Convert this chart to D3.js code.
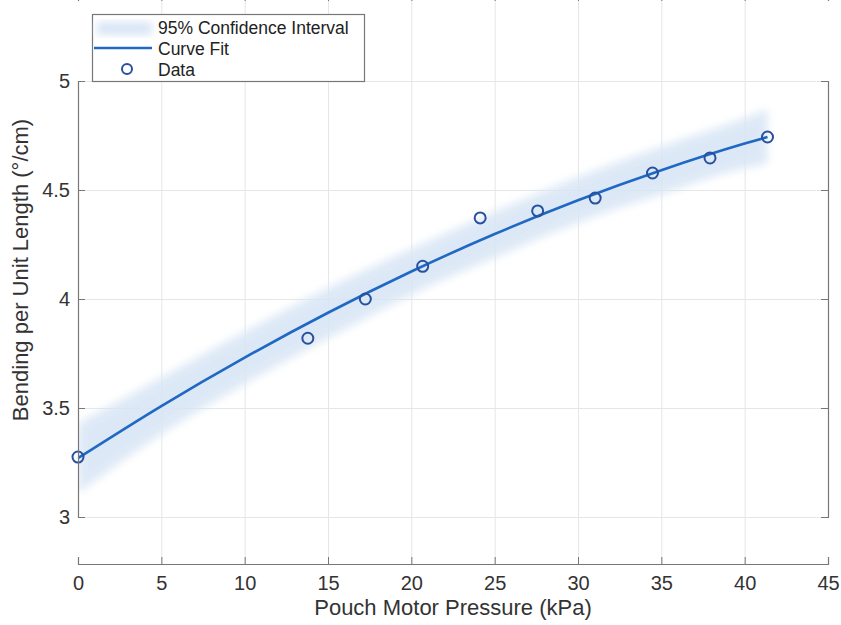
<!DOCTYPE html>
<html>
<head>
<meta charset="utf-8">
<script src="https://cdn.jsdelivr.net/npm/d3@7"></script>
<style>
  html, body { margin: 0; padding: 0; background: #fff; }
  #field { width: 841px; height: 625px; }
  text { font-family: 'Liberation Sans', Arial, Helvetica, sans-serif; }
</style>
</head>
<body>
<div id="field"></div>
<script>
'use strict';

// 測定データ (kPa, °/cm)
const pressure = [0, 13.79, 17.24, 20.68, 24.13, 27.58, 31.03, 34.47, 37.92, 41.37];
const bending = [3.275, 3.82, 4.0, 4.15, 4.372, 4.404, 4.463, 4.578, 4.647, 4.743];

// 近似曲線と95%信頼区間
const fitX = [0, 5, 10, 15, 20, 25, 30, 35, 40, 41.37];
const fitY = [3.27, 3.509, 3.731, 3.937, 4.126, 4.298, 4.453, 4.591, 4.713, 4.743];
const ciUpper = [3.43, 3.64, 3.85, 4.05, 4.23, 4.40, 4.56, 4.70, 4.83, 4.87];
const ciLower = [3.11, 3.38, 3.61, 3.82, 4.02, 4.19, 4.35, 4.48, 4.60, 4.62];

// 目盛り
const xTicks = [0, 5, 10, 15, 20, 25, 30, 35, 40, 45];
const yTicks = [3, 3.5, 4, 4.5, 5];

const legendLabels = ['95% Confidence Interval', 'Curve Fit', 'Data'];

function D3Chart(setting) {
  let w = setting.w,
      h = setting.h,
      left = 78, right = 828, top = -6, bottom = 564,
      svg = d3.select('#field').append('svg').attr('width', w).attr('height', h);

  let xScale = d3.scaleLinear().domain([0, 45]).range([left, right]),
      yScale = d3.scaleLinear().domain([3, 5]).range([517, 81]);

  let axisColor = '#777',
      textColor = '#333',
      lineColor = '#1f68c4',
      markColor = '#27509f',
      bandColor = '#d8e5f5';

  let defs = svg.append('defs');
  defs.append('filter').attr('id', 'soft')
    .attr('x', '-10%').attr('y', '-20%').attr('width', '120%').attr('height', '140%')
    .append('feGaussianBlur').attr('stdDeviation', 4);
  defs.append('clipPath').attr('id', 'plotclip')
    .append('rect').attr('x', left).attr('y', top).attr('width', right - left).attr('height', bottom - top);

  // グリッド
  svg.append('g')
    .attr('transform', 'translate(0,' + bottom + ')')
    .call(d3.axisBottom(xScale).tickValues(xTicks.slice(1, -1)).tickSize(-(bottom - top)).tickFormat(''))
    .call(g => g.select('.domain').remove())
    .call(g => g.selectAll('line').attr('stroke', '#e6e6e6').attr('stroke-width', 1));
  svg.append('g')
    .attr('transform', 'translate(' + left + ',0)')
    .call(d3.axisLeft(yScale).tickValues(yTicks).tickSize(-(right - left)).tickFormat(''))
    .call(g => g.select('.domain').remove())
    .call(g => g.selectAll('line').attr('stroke', '#e6e6e6').attr('stroke-width', 1));

  let plot = svg.append('g').attr('clip-path', 'url(#plotclip)');

  // 信頼区間
  let band = d3.area()
    .x(function(d, i) { return xScale(fitX[i]); })
    .y0(function(d, i) { return yScale(ciLower[i]); })
    .y1(function(d, i) { return yScale(ciUpper[i]); })
    .curve(d3.curveMonotoneX);
  plot.append('path')
    .datum(fitX)
    .attr('d', band)
    .attr('fill', bandColor)
    .attr('opacity', 0.85)
    .attr('filter', 'url(#soft)');

  // 近似曲線
  let line = d3.line()
    .x(function(d, i) { return xScale(fitX[i]); })
    .y(function(d) { return yScale(d); })
    .curve(d3.curveMonotoneX);
  plot.append('path')
    .datum(fitY)
    .attr('d', line)
    .attr('fill', 'none')
    .attr('stroke', lineColor)
    .attr('stroke-width', 2.6);

  // データ点
  svg.selectAll('circle.pt')
    .data(bending)
    .enter().append('circle')
    .attr('class', 'pt')
    .attr('cx', function(d, i) { return xScale(pressure[i]); })
    .attr('cy', function(d) { return yScale(d); })
    .attr('r', 5.5)
    .attr('fill', 'none')
    .attr('stroke', markColor)
    .attr('stroke-width', 2);

  // 軸 (目盛りは内向き)
  let xAxis = svg.append('g')
    .attr('transform', 'translate(0,' + bottom + ')')
    .call(d3.axisBottom(xScale).tickValues(xTicks).tickSize(-7).tickPadding(12));
  let yAxis = svg.append('g')
    .attr('transform', 'translate(' + left + ',0)')
    .call(d3.axisLeft(yScale).tickValues(yTicks).tickSize(-7).tickPadding(8).tickFormat(d3.format('')));
  svg.append('g')
    .attr('transform', 'translate(' + right + ',0)')
    .call(d3.axisRight(yScale).tickValues(yTicks).tickSize(-7).tickFormat(''));
  svg.append('g')
    .attr('transform', 'translate(0,' + top + ')')
    .call(d3.axisTop(xScale).tickValues(xTicks).tickSize(-7).tickFormat(''));

  svg.selectAll('.domain').attr('stroke', axisColor).attr('stroke-width', 1.2);
  svg.selectAll('.tick line').filter(function() { return d3.select(this).attr('stroke') !== '#e6e6e6'; })
    .attr('stroke', axisColor);
  [xAxis, yAxis].forEach(function(a) {
    a.selectAll('text').attr('font-size', '20px').attr('fill', textColor)
      .attr('font-family', "'Liberation Sans', Arial, sans-serif");
  });

  // 軸ラベル
  svg.append('text')
    .text('Pouch Motor Pressure (kPa)')
    .attr('x', (left + right) / 2)
    .attr('y', 615)
    .attr('text-anchor', 'middle')
    .attr('font-size', '22px')
    .attr('fill', textColor);
  svg.append('text')
    .text('Bending per Unit Length (°/cm)')
    .attr('transform', 'translate(28,270) rotate(-90)')
    .attr('text-anchor', 'middle')
    .attr('font-size', '22px')
    .attr('fill', textColor);

  // 凡例
  let lg = svg.append('g');
  lg.append('rect')
    .attr('x', 92.5).attr('y', 14.5).attr('width', 272).attr('height', 67)
    .attr('fill', '#fff')
    .attr('stroke', axisColor)
    .attr('stroke-width', 1.2);
  lg.append('rect')
    .attr('x', 97).attr('y', 22).attr('width', 55).attr('height', 13)
    .attr('fill', bandColor)
    .attr('filter', 'url(#soft)');
  lg.append('line')
    .attr('x1', 94).attr('x2', 152).attr('y1', 48).attr('y2', 48)
    .attr('stroke', lineColor)
    .attr('stroke-width', 2.6);
  lg.append('circle')
    .attr('cx', 127).attr('cy', 69).attr('r', 5)
    .attr('fill', 'none')
    .attr('stroke', markColor)
    .attr('stroke-width', 2);
  lg.selectAll('text.lg')
    .data(legendLabels)
    .enter().append('text')
    .attr('class', 'lg')
    .text(function(d) { return d; })
    .attr('x', 158)
    .attr('y', function(d, i) { return 28 + i * 20.7; })
    .attr('dy', '0.35em')
    .attr('font-size', '17.5px')
    .attr('fill', '#222');
}

let d3Chart = new D3Chart({
  w: 841,
  h: 625
});
</script>
</body>
</html>
